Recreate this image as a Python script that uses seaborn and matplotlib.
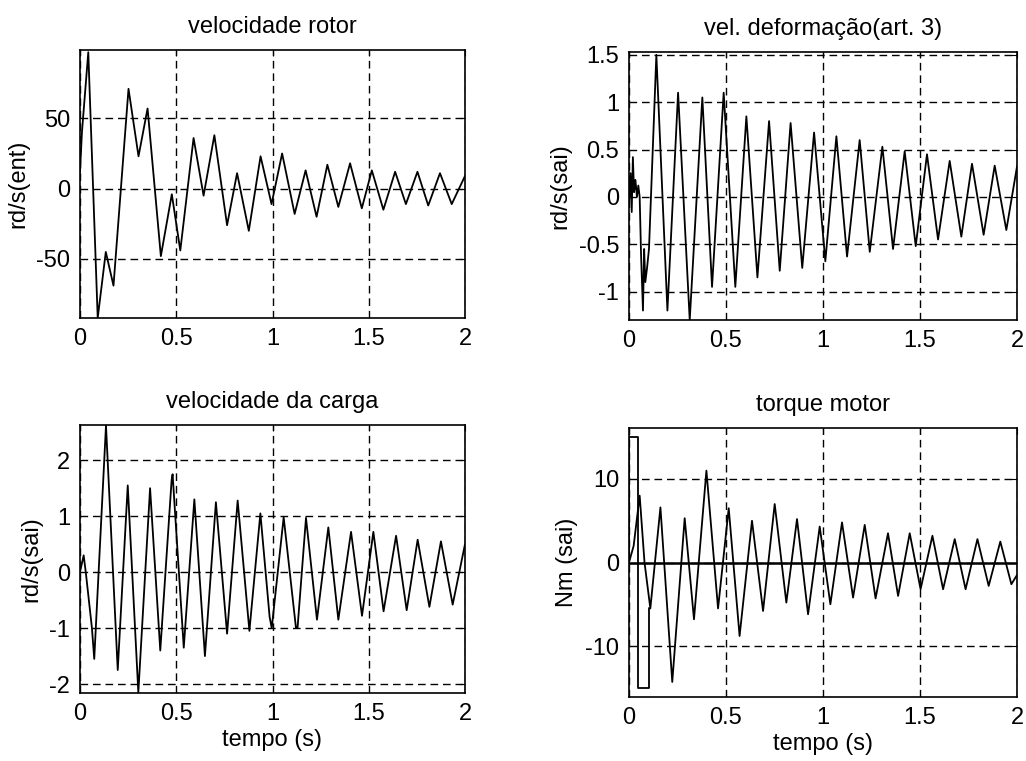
import matplotlib
matplotlib.use("Agg")
import matplotlib.pyplot as plt
import seaborn as sns
import pandas as pd

# ---- rotor speed (rd/s, input side): turning points of the response ----
rotor_t = [0.000, 0.010, 0.043, 0.092, 0.134, 0.174, 0.252, 0.304, 0.351, 0.420,
           0.477, 0.521, 0.590, 0.642, 0.698, 0.764, 0.816, 0.877, 0.938, 0.995,
           1.050, 1.115, 1.172, 1.229, 1.285, 1.342, 1.403, 1.464, 1.516, 1.576,
           1.637, 1.693, 1.753, 1.809, 1.870, 1.931, 2.000]
rotor_v = [12, 40, 97, -92, -45, -69, 71, 23, 57, -48,
           -4, -44, 36, -5, 38, -26, 11, -30, 23, -11,
           25, -18, 13, -20, 17, -13, 18, -14, 13, -15,
           12, -11, 12, -12, 11, -11, 9]

# ---- deformation speed of joint 3 (rd/s, output side) ----
deform_t = [0.000, 0.008, 0.014, 0.020, 0.026, 0.033, 0.041, 0.048, 0.055, 0.062,
            0.072, 0.078, 0.084, 0.093, 0.103, 0.141, 0.198, 0.253, 0.313, 0.378,
            0.428, 0.488, 0.548, 0.605, 0.662, 0.722, 0.777, 0.833, 0.893, 0.954,
            1.012, 1.069, 1.124, 1.189, 1.241, 1.306, 1.361, 1.421, 1.478, 1.536,
            1.593, 1.653, 1.713, 1.768, 1.828, 1.885, 1.945, 2.000]
deform_v = [-0.07, 0.25, -0.16, 0.42, 0.05, 0.18, 0.0, 0.12, 0.0, -0.6,
            -1.2, -0.55, -0.9, -0.75, -0.55, 1.50, -1.20, 1.10, -1.30, 1.05,
            -0.95, 1.10, -0.95, 0.85, -0.85, 0.80, -0.78, 0.78, -0.75, 0.68,
            -0.68, 0.64, -0.63, 0.60, -0.58, 0.53, -0.55, 0.48, -0.52, 0.45,
            -0.45, 0.38, -0.42, 0.35, -0.40, 0.33, -0.35, 0.32]

# ---- load speed (rd/s, output side) ----
load_t = [0.000, 0.019, 0.030, 0.062, 0.074, 0.135, 0.196, 0.248, 0.303, 0.364,
          0.417, 0.476, 0.481, 0.539, 0.594, 0.649, 0.706, 0.764, 0.819, 0.880,
          0.937, 0.985, 0.996, 1.058, 1.122, 1.130, 1.174, 1.231, 1.290, 1.342,
          1.408, 1.465, 1.524, 1.577, 1.642, 1.697, 1.754, 1.815, 1.875, 1.936,
          2.000]
load_v = [0.0, 0.30, 0.0, -1.0, -1.55, 2.62, -1.75, 1.55, -2.15, 1.50,
          -1.40, 1.65, 1.75, -1.35, 1.30, -1.50, 1.25, -1.10, 1.28, -1.05,
          1.05, -0.80, -1.00, 0.98, -1.00, -1.00, 0.97, -0.85, 0.80, -0.85,
          0.72, -0.78, 0.72, -0.70, 0.65, -0.68, 0.58, -0.62, 0.55, -0.58,
          0.50]

# ---- motor torque (Nm, output side) ----
torque_t = [0.000, 0.024, 0.055, 0.080, 0.110, 0.162, 0.223, 0.287, 0.335, 0.399,
            0.459, 0.514, 0.570, 0.634, 0.691, 0.751, 0.811, 0.866, 0.923, 0.983,
            1.038, 1.098, 1.155, 1.215, 1.271, 1.335, 1.387, 1.447, 1.503, 1.564,
            1.619, 1.679, 1.735, 1.796, 1.854, 1.914, 1.971, 2.000]
torque_v = [0.0, 2.0, 8.0, 0.0, -5.5, 6.6, -14.3, 5.3, -6.8, 11.0,
            -5.5, 6.5, -8.8, 5.0, -5.8, 7.0, -4.8, 5.2, -6.2, 4.3,
            -5.0, 4.8, -4.2, 4.5, -4.3, 3.5, -4.0, 3.5, -3.2, 3.2,
            -3.2, 2.8, -3.2, 2.8, -2.8, 2.5, -2.6, -1.5]
# saturated command at start-up
sat_t = [0.000, 0.000, 0.046, 0.046, 0.103, 0.103]
sat_v = [0.0, 15.0, 15.0, -15.0, -15.0, -5.5]
# reference level
zero_t = [0.0, 2.0]
zero_v = [0.0, 0.0]

titles = ["velocidade rotor", "vel. deformação(art. 3)",
          "velocidade da carga", "torque motor"]
ylabels = ["rd/s(ent)", "rd/s(sai)", "rd/s(sai)", "Nm (sai)"]
xlabel = "tempo (s)"
xticks = [0, 0.5, 1, 1.5, 2]
xticklabels = ["0", "0.5", "1", "1.5", "2"]
yticks = [[-50, 0, 50], [-1, -0.5, 0, 0.5, 1, 1.5], [-2, -1, 0, 1, 2], [-10, 0, 10]]
yticklabels = [["-50", "0", "50"], ["-1", "-0.5", "0", "0.5", "1", "1.5"],
               ["-2", "-1", "0", "1", "2"], ["-10", "0", "10"]]
ylims = [(-92, 98.6), (-1.30, 1.53), (-2.16, 2.63), (-16.1, 16.1)]

sns.set_theme(style="white")
plt.rcParams["font.family"] = ["Liberation Sans", "DejaVu Sans"]
plt.rcParams["axes.edgecolor"] = "black"
plt.rcParams["axes.linewidth"] = 1.2

fig = plt.figure(figsize=(10.26, 7.61), dpi=100)
fig.patch.set_facecolor("white")
positions = [
    [80 / 1026, 1 - 318 / 761, 385 / 1026, 268 / 761],
    [629 / 1026, 1 - 320 / 761, 388 / 1026, 268 / 761],
    [80 / 1026, 1 - 693 / 761, 385 / 1026, 268 / 761],
    [629 / 1026, 1 - 697 / 761, 388 / 1026, 269 / 761],
]
axes = [fig.add_axes(p) for p in positions]

series = [
    [(rotor_t, rotor_v, 1.3)],
    [(deform_t, deform_v, 1.3)],
    [(load_t, load_v, 1.3)],
    [(zero_t, zero_v, 1.8), (sat_t, sat_v, 1.3), (torque_t, torque_v, 1.3)],
]

fs = 17
for i, ax in enumerate(axes):
    ax.set_facecolor("white")
    for t, v, lw in series[i]:
        df = pd.DataFrame({"t": t, "v": v})
        sns.lineplot(data=df, x="t", y="v", ax=ax, color="black", lw=lw,
                     estimator=None, sort=False)
    ax.set_xlim(0, 2)
    ax.set_ylim(*ylims[i])
    ax.set_xticks(xticks)
    ax.set_xticklabels(xticklabels)
    ax.set_yticks(yticks[i])
    ax.set_yticklabels(yticklabels[i])
    ax.grid(True, color="black", linestyle=(0, (5.5, 3.5)), linewidth=1.0)
    ax.tick_params(direction="in", length=4, width=0.8, colors="black",
                   labelsize=fs, pad=7, top=True, right=True)
    for s in ax.spines.values():
        s.set_visible(True)
        s.set_color("black")
    ax.set_title(titles[i], fontsize=fs, pad=12, color="black")
    ax.set_ylabel(ylabels[i], fontsize=fs, color="black", labelpad=5)
    if i >= 2:
        ax.set_xlabel(xlabel, fontsize=fs, color="black", labelpad=3)
    else:
        ax.set_xlabel("")

fig.savefig("out.png", dpi=100, facecolor="white")
